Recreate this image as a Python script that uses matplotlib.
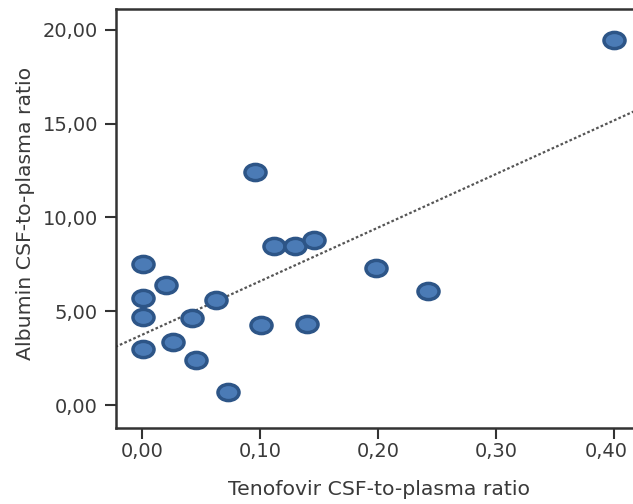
import numpy as np
import matplotlib
matplotlib.use("Agg")
from matplotlib import pyplot as plt
from matplotlib.path import Path
from matplotlib.transforms import Affine2D, ScaledTranslation

# data
tenofovir = [0.400, 0.096, 0.112, 0.130, 0.146, 0.198, 0.242, 0.001, 0.020, 0.001,
             0.063, 0.001, 0.042, 0.101, 0.140, 0.001, 0.026, 0.046, 0.073]
albumin = [19.47, 12.43, 8.48, 8.48, 8.80, 7.30, 6.08, 7.52, 6.40, 5.70,
           5.60, 4.70, 4.64, 4.27, 4.32, 2.99, 3.36, 2.40, 0.69]

x_ticks = [0.0, 0.1, 0.2, 0.3, 0.4]
x_ticklabels = ["0,00", "0,10", "0,20", "0,30", "0,40"]
y_ticks = [0, 5, 10, 15, 20]
y_ticklabels = ["0,00", "5,00", "10,00", "15,00", "20,00"]

plt.rcParams['font.family'] = ['DejaVu Sans']

fig = plt.figure(figsize=(6.33, 5.04), dpi=100)
ax = fig.add_axes([116 / 633, 76 / 504, 517 / 633, 419 / 504])

# flattened circle as marker
ellipse = Path.unit_circle().transformed(Affine2D().scale(1.3, 1.0))

x = np.array(tenofovir)
y = np.array(albumin)
slope, intercept = np.polyfit(x, y, 1)
xs = np.array([-0.03, 0.45])
ax.plot(xs, intercept + slope * xs, color='#555555', lw=1.6, ls=(0, (1.2, 1.0)), zorder=1)

ax.scatter(x, y, marker=ellipse, s=230, facecolor='#4b7bb6', edgecolor='#2d5587',
           linewidth=2.5, zorder=3)

ax.set_xlim(-0.022, 0.416)
ax.set_ylim(-1.22, 21.1)
ax.set_xticks(x_ticks)
ax.set_xticklabels(x_ticklabels)
ax.set_yticks(y_ticks)
ax.set_yticklabels(y_ticklabels)

for side in ['left', 'bottom', 'top']:
    ax.spines[side].set_color('#333333')
    ax.spines[side].set_linewidth(1.8)
ax.spines['right'].set_visible(False)

ax.tick_params(direction='out', length=8, width=1.5, color='#333333',
               labelsize=14, labelcolor='#3a3a3a')
ax.tick_params(axis='x', pad=2)
ax.tick_params(axis='y', pad=5)

# last x label sits against the right edge
last = ax.get_xticklabels()[-1]
last.set_transform(last.get_transform() + ScaledTranslation(-8 / 100, 0, fig.dpi_scale_trans))

ax.set_xlabel("Tenofovir CSF-to-plasma ratio", fontsize=14.7, color='#3a3a3a', va='center')
ax.set_ylabel("Albumin CSF-to-plasma ratio", fontsize=14.7, color='#3a3a3a', va='center')
ax.xaxis.set_label_coords(0.509, -0.146)
ax.yaxis.set_label_coords(-0.176, 0.513)

fig.savefig("out.png", dpi=100)
